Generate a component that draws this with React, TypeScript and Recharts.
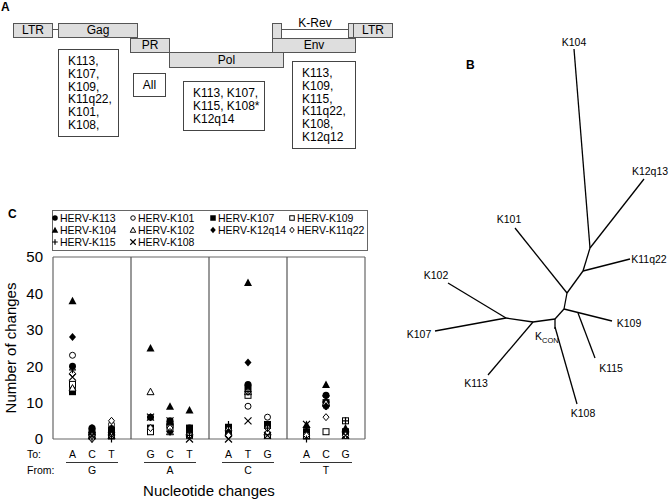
import React from 'react';
import { ScatterChart, Scatter, XAxis, YAxis, ReferenceLine } from 'recharts';

const FONT = 'Arial, "Liberation Sans", Helvetica, sans-serif';

// ---------- panel C data ----------
const toLabels = ['A', 'C', 'T', 'G', 'C', 'T', 'A', 'T', 'G', 'A', 'C', 'G'];
const fromLabels = ['G', 'A', 'C', 'T'];
const xPos = [1, 2, 3, 5, 6, 7, 9, 10, 11, 13, 14, 15];
const yTicks = [0, 10, 20, 30, 40, 50];
const dividers = [4, 8, 12];

const k113 = [20, 3, 3, 6, 5, 3, 3, 15, 4, 2, 12, 2];
const k101 = [23, 1, 4, 3, 4, 2, 1, 9, 6, 1, 9, 2];
const k107 = [13, 2, 2, 3, 4, 3, 3, 14, 4, 2, 10, 2];
const k109 = [15, 1, 1, 2, 3, 1, 2, 12, 1, 1, 2, 5];
const k104 = [38, 2, 2, 25, 9, 8, 2, 43, 2, 4, 15, 3];
const k102 = [14, 1, 1, 13, 2, 2, 3, 13, 2, 1, 10, 1];
const k12q14 = [28, 3, 3, 6, 2, 2, 2, 21, 3, 2, 9, 1];
const k11q22 = [18, 0, 5, 3, 3, 1, 1, 13, 3, 1, 6, 1];
const k115 = [19, 0, 0, 6, 2, 1, 4, 13, 3, 0, 9, 5];
const k108 = [17, 1, 1, 6, 5, 0, 0, 5, 1, 4, 11, 1];

const series = [
  { name: 'HERV-K113', kind: 'circle', values: k113 },
  { name: 'HERV-K101', kind: 'circleOpen', values: k101 },
  { name: 'HERV-K107', kind: 'square', values: k107 },
  { name: 'HERV-K109', kind: 'squareOpen', values: k109 },
  { name: 'HERV-K104', kind: 'triangle', values: k104 },
  { name: 'HERV-K102', kind: 'triangleOpen', values: k102 },
  { name: 'HERV-K12q14', kind: 'diamond', values: k12q14 },
  { name: 'HERV-K11q22', kind: 'diamondOpen', values: k11q22 },
  { name: 'HERV-K115', kind: 'plus', values: k115 },
  { name: 'HERV-K108', kind: 'cross', values: k108 },
];

// ---------- panel A data ----------
const gagList = ['K113,', 'K107,', 'K109,', 'K11q22,', 'K101,', 'K108,'];
const prList = ['All'];
const polList = ['K113, K107,', 'K115, K108*', 'K12q14'];
const envList = ['K113,', 'K109,', 'K115,', 'K11q22,', 'K108,', 'K12q12'];

// ---------- panel B data (tree, in drawing units) ----------
const treeNodes: Record<string, [number, number]> = {
  n1: [190, 248], n2: [183, 271], n3: [167, 293], n4: [164, 309],
  n4b: [178, 313], n5: [155, 319], n6: [133, 322], n7: [106, 318],
  kcon: [155, 329], kconB: [155, 327],
  K104: [174, 49], K12q13: [244, 179], K11q22: [230, 259], K101: [115, 228],
  K109: [212, 321], K115: [195, 358], K108: [177, 404], K113: [88, 375],
  K102: [48, 283], K107: [35, 331],
};
const treeEdges = [
  ['K104', 'n1'], ['K12q13', 'n1'], ['n1', 'n2'], ['n2', 'K11q22'], ['n2', 'n3'],
  ['n3', 'K101'], ['n3', 'n4'], ['n4', 'K109'], ['n4b', 'K115'], ['n4', 'n5'],
  ['n5', 'kcon'], ['kconB', 'K108'], ['n5', 'n6'], ['n6', 'K113'], ['n6', 'n7'],
  ['n7', 'K102'], ['n7', 'K107'],
];
const treeLabels = [
  { x: 174, y: 42, name: 'K104' },
  { x: 250, y: 171, name: 'K12q13' },
  { x: 109, y: 219, name: 'K101' },
  { x: 249, y: 259, name: 'K11q22' },
  { x: 36, y: 275, name: 'K102' },
  { x: 19, y: 334, name: 'K107' },
  { x: 229, y: 323, name: 'K109' },
  { x: 211, y: 368, name: 'K115' },
  { x: 76, y: 383, name: 'K113' },
  { x: 183, y: 413, name: 'K108' },
];

const Marker = ({ kind, cx, cy, s = 7 }: any) => {
  const r = s / 2;
  switch (kind) {
    case 'circle':
      return <circle cx={cx} cy={cy} r={r} fill="#000" />;
    case 'circleOpen':
      return <circle cx={cx} cy={cy} r={r - 0.5} fill="#fff" stroke="#000" strokeWidth={1} />;
    case 'square':
      return <rect x={cx - r} y={cy - r} width={s} height={s} fill="#000" />;
    case 'squareOpen':
      return <rect x={cx - r + 0.5} y={cy - r + 0.5} width={s - 1} height={s - 1} fill="#fff" stroke="#000" strokeWidth={1} />;
    case 'triangle':
      return <polygon points={`${cx},${cy - r - 0.5} ${cx + r + 0.5},${cy + r} ${cx - r - 0.5},${cy + r}`} fill="#000" />;
    case 'triangleOpen':
      return <polygon points={`${cx},${cy - r} ${cx + r},${cy + r - 0.5} ${cx - r},${cy + r - 0.5}`} fill="#fff" stroke="#000" strokeWidth={1} />;
    case 'diamond':
      return <polygon points={`${cx},${cy - r - 0.5} ${cx + r},${cy} ${cx},${cy + r + 0.5} ${cx - r},${cy}`} fill="#000" />;
    case 'diamondOpen':
      return <polygon points={`${cx},${cy - r} ${cx + r - 0.5},${cy} ${cx},${cy + r} ${cx - r + 0.5},${cy}`} fill="#fff" stroke="#000" strokeWidth={1} />;
    case 'plus':
      return <path d={`M${cx - r},${cy}H${cx + r}M${cx},${cy - r}V${cy + r}`} stroke="#000" strokeWidth={1.2} />;
    case 'cross':
      return <path d={`M${cx - r},${cy - r}L${cx + r},${cy + r}M${cx + r},${cy - r}L${cx - r},${cy + r}`} stroke="#000" strokeWidth={1.2} />;
    default:
      return null;
  }
};

const ToTick = (props: any) => {
  const { x, y, payload } = props;
  const i = xPos.indexOf(payload.value);
  const g = Math.floor(i / 3);
  return (
    <g fontFamily={FONT} fontSize={10.5} fill="#000">
      <text x={x} y={y + 19} textAnchor="middle">{toLabels[i]}</text>
      {i === 0 && (
        <>
          <text x={27} y={y + 19}>To:</text>
          <text x={27} y={y + 35}>From:</text>
        </>
      )}
      {i % 3 === 1 && (
        <>
          <line x1={x - 26} x2={x + 26} y1={y + 23.5} y2={y + 23.5} stroke="#333" strokeWidth={1} />
          <text x={x} y={y + 35} textAnchor="middle">{fromLabels[g]}</text>
        </>
      )}
    </g>
  );
};

const geneBox = (label: string, left: number, top: number, w: number, h: number) => (
  <div key={`${label}-${left}`} style={{
    position: 'absolute', left, top, width: w, height: h, boxSizing: 'border-box',
    background: '#dedede', border: '1px solid #555', fontSize: 12, lineHeight: `${h - 2}px`, textAlign: 'center',
  }}>{label}</div>
);

const listBox = (items: string[], left: number, top: number, w: number, h: number, center = false) => (
  <div style={{
    position: 'absolute', left, top, width: w, height: h, boxSizing: 'border-box',
    border: '1px solid #444', background: '#fff', fontSize: 12, lineHeight: '12.8px',
    padding: center ? '5px 0 0 0' : '5px 0 0 9px', textAlign: center ? 'center' : 'left',
  }}>
    {items.map((t) => <div key={t}>{t}</div>)}
  </div>
);

const PanelA = () => (
  <div style={{ position: 'absolute', left: 0, top: 0, width: 400, height: 200 }}>
    <div style={{ position: 'absolute', left: 1, top: 0, fontSize: 12, fontWeight: 'bold' }}>A</div>
    <div style={{ position: 'absolute', left: 52, top: 29, width: 6, height: 1, background: '#555' }} />
    <div style={{ position: 'absolute', left: 282, top: 29, width: 66, height: 1, background: '#555' }} />
    <div style={{ position: 'absolute', left: 282, top: 16, width: 66, textAlign: 'center', fontSize: 12 }}>K-Rev</div>
    {geneBox('LTR', 13, 23, 40, 15)}
    {geneBox('Gag', 58, 23, 80, 15)}
    {geneBox('PR', 130, 38, 40, 15)}
    {geneBox('Pol', 169, 52, 115, 16)}
    {geneBox('Env', 272, 38, 84, 15)}
    {geneBox('', 272, 23, 10, 16)}
    {geneBox('', 348, 23, 6, 15)}
    {geneBox('LTR', 353, 23, 40, 15)}
    {listBox(gagList, 58, 49, 61, 88)}
    {listBox(prList, 133, 73, 33, 24, true)}
    {listBox(polList, 183, 81, 82, 50)}
    {listBox(envList, 292, 61, 64, 88)}
  </div>
);

const treeLine = (a: string, b: string) => {
  const p = treeNodes[a];
  const q = treeNodes[b];
  return (
    <ReferenceLine key={`${a}-${b}`} segment={[{ x: p[0], y: p[1] }, { x: q[0], y: q[1] }]}
      stroke="#000" strokeWidth={1.3} ifOverflow="visible" />
  );
};

const TreeLabel = (props: any) => (
  <text x={props.cx} y={props.cy} textAnchor="middle" dominantBaseline="central"
    fontFamily={FONT} fontSize={10.5} fill="#000">{props.payload.name}</text>
);

const PanelB = () => (
  <div style={{ position: 'absolute', left: 400, top: 0, width: 269, height: 501 }}>
    <ScatterChart width={269} height={501} margin={{ top: 0, right: 0, bottom: 0, left: 0 }}>
      <XAxis type="number" dataKey="x" domain={[0, 269]} hide />
      <YAxis type="number" dataKey="y" domain={[0, 501]} reversed hide />
      {treeEdges.map(([a, b]) => treeLine(a, b))}
      <Scatter data={treeLabels} shape={TreeLabel} isAnimationActive={false} />
    </ScatterChart>
    <div style={{ position: 'absolute', left: 66, top: 58, fontSize: 12, fontWeight: 'bold' }}>B</div>
    <div style={{ position: 'absolute', left: 135, top: 330, fontSize: 10.5, color: '#000' }}>
      K<span style={{ fontSize: 7.5, position: 'relative', top: 3 }}>CON</span>
    </div>
  </div>
);

const Legend = () => {
  const colX = [55, 133, 213, 292];
  return (
    <svg style={{ position: 'absolute', left: 0, top: 205 }} width={400} height={50}>
      <rect x={52.5} y={5.5} width={315} height={40} fill="#fff" stroke="#666" strokeWidth={1} />
      {series.map((s, i) => {
        const cx = colX[i % 4];
        const cy = 13 + Math.floor(i / 4) * 12;
        return (
          <g key={s.name}>
            <Marker kind={s.kind} cx={cx} cy={cy} s={5.5} />
            <text x={cx + 5} y={cy} dominantBaseline="central" fontFamily={FONT} fontSize={10.5}>{s.name}</text>
          </g>
        );
      })}
    </svg>
  );
};

const PanelC = () => (
  <>
    <div style={{ position: 'absolute', left: 8, top: 207, fontSize: 12, fontWeight: 'bold' }}>C</div>
    <Legend />
    <div style={{ position: 'absolute', left: 0, top: 200, width: 400, height: 301 }}>
      <ScatterChart width={400} height={301} margin={{ top: 57, right: 35, bottom: 12, left: 0 }}>
        <XAxis type="number" dataKey="x" domain={[0, 16]} ticks={xPos} interval={0}
          axisLine={false} tickLine={false} tickSize={0} tickMargin={0} height={50} tick={<ToTick />} />
        <YAxis type="number" dataKey="y" domain={[0, 50]} ticks={yTicks} width={53}
          axisLine={false} tickLine={false} tickSize={0} tickMargin={10}
          tick={{ fill: '#000', fontSize: 15, fontFamily: FONT }}
          label={{ value: 'Number of changes', angle: -90, position: 'insideLeft', offset: 11,
            style: { textAnchor: 'middle', fontSize: 15, fontFamily: FONT, fill: '#000' } }} />
        <ReferenceLine x={0} stroke="#666" strokeWidth={1.2} />
        <ReferenceLine x={16} stroke="#666" strokeWidth={1.2} />
        <ReferenceLine y={0} stroke="#666" strokeWidth={1.2} />
        <ReferenceLine y={50} stroke="#666" strokeWidth={1.2} />
        {dividers.map((d) => <ReferenceLine key={d} x={d} stroke="#555" strokeWidth={1.2} />)}
        {series.map((s) => (
          <Scatter key={s.name} name={s.name} data={xPos.map((x, i) => ({ x, y: s.values[i] }))}
            shape={(p: any) => <Marker kind={s.kind} cx={p.cx} cy={p.cy} />} isAnimationActive={false} />
        ))}
      </ScatterChart>
    </div>
    <div style={{ position: 'absolute', left: 53, width: 312, top: 482, textAlign: 'center', fontSize: 15 }}>
      Nucleotide changes
    </div>
  </>
);

export default function App() {
  return (
    <div style={{ position: 'absolute', left: 0, top: 0, width: 669, height: 501, background: '#fff',
      overflow: 'hidden', fontFamily: FONT, color: '#000' }}>
      <PanelA />
      <PanelB />
      <PanelC />
    </div>
  );
}
